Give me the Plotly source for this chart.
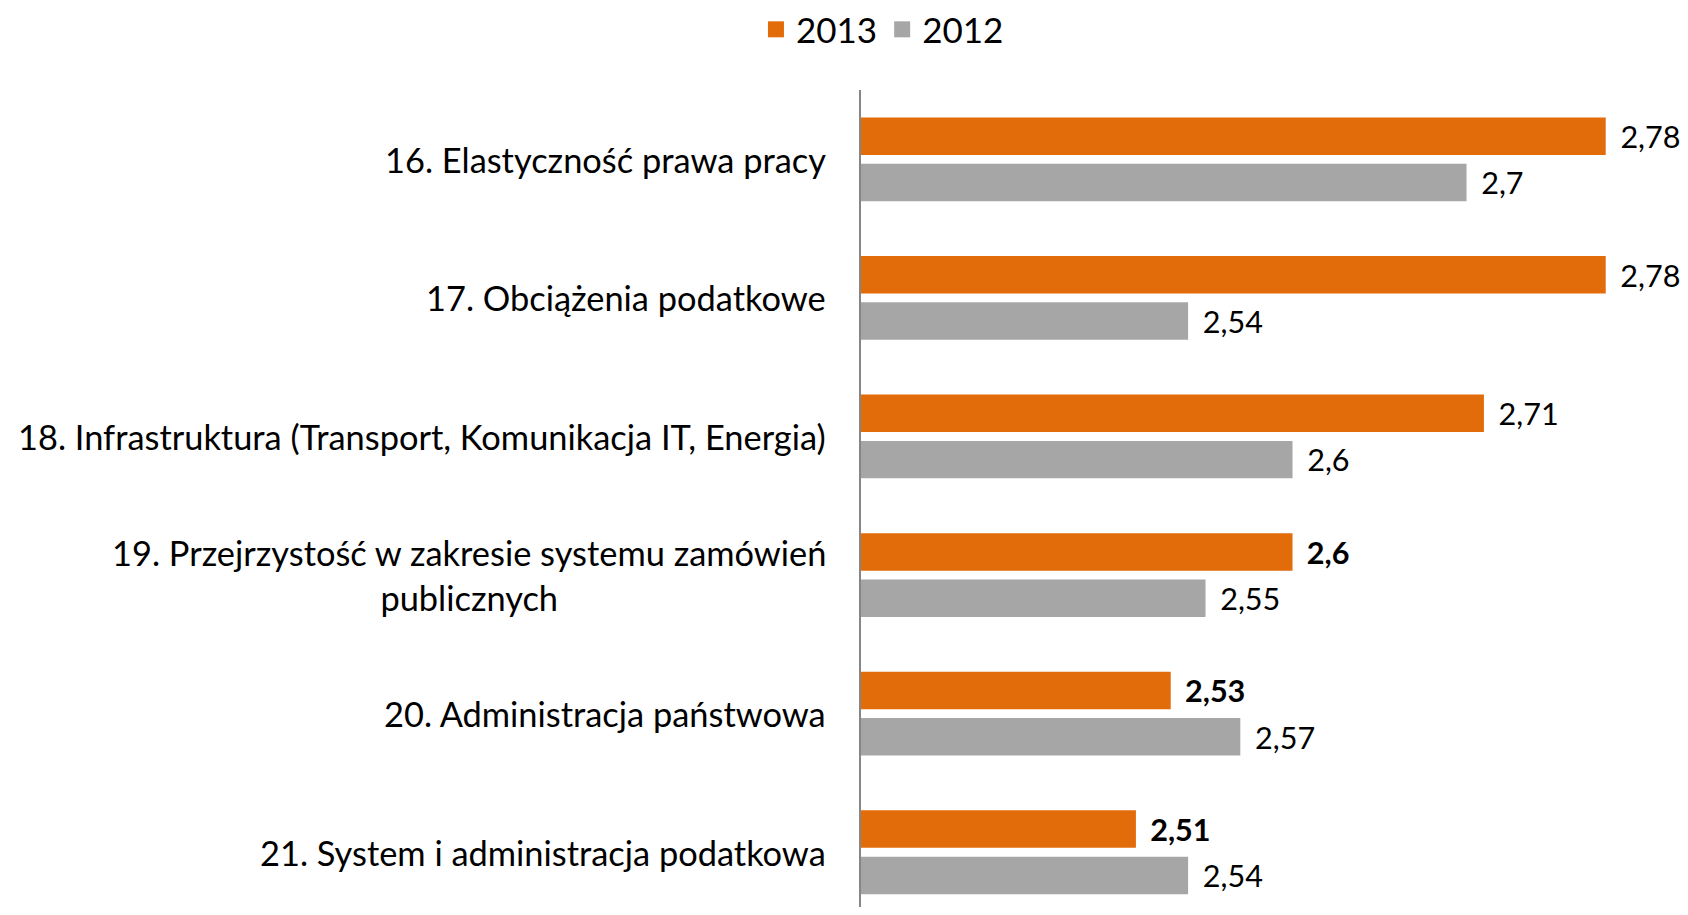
import plotly.graph_objects as go

categories = [
    "16. Elastyczność prawa pracy",
    "17. Obciążenia podatkowe",
    "18. Infrastruktura (Transport, Komunikacja IT, Energia)",
    "19. Przejrzystość w zakresie systemu zamówień<br>publicznych",
    "20. Administracja państwowa",
    "21. System i administracja podatkowa",
]
values_2013 = [2.78, 2.78, 2.71, 2.60, 2.53, 2.51]
values_2012 = [2.70, 2.54, 2.60, 2.55, 2.57, 2.54]
series_names = ["2013", "2012"]

FONT = "Lato"
ORANGE = "#E36C0A"
GREY = "#A6A6A6"
LABEL_WEIGHT_2013 = ["normal", "normal", "normal", "bold", "bold", "bold"]
PAD = "\u00a0\u2009"


def fmt(v):
    s = ("%.2f" % v).rstrip("0").rstrip(".")
    return PAD + s.replace(".", ",")


fig = go.Figure()
fig.add_trace(go.Bar(
    y=categories, x=values_2013, name=series_names[0], orientation="h",
    marker=dict(color=ORANGE, line=dict(width=0)),
    text=[fmt(v) for v in values_2013], textposition="outside",
    textfont=dict(family=FONT, size=31, color="#000000", weight=LABEL_WEIGHT_2013),
    cliponaxis=False, showlegend=False,
))
fig.add_trace(go.Bar(
    y=categories, x=values_2012, name=series_names[1], orientation="h",
    marker=dict(color=GREY, line=dict(width=0)),
    text=[fmt(v) for v in values_2012], textposition="outside",
    textfont=dict(family=FONT, size=31, color="#000000"),
    cliponaxis=False, showlegend=False,
))
# legend entries with larger square swatches
for name, col in zip(series_names, [ORANGE, GREY]):
    fig.add_trace(go.Scatter(
        x=[None], y=[None], mode="markers", name=name,
        marker=dict(symbol="square", size=22, color=col),
        showlegend=True,
    ))

for c in categories:
    fig.add_annotation(
        x=0, xref="paper", y=c, yref="y", text=c, showarrow=False,
        xanchor="right", yanchor="middle", align="center", xshift=-33,
        font=dict(family=FONT, size=34.4, color="#000000"),
    )

fig.update_layout(
    width=1672, height=899,
    margin=dict(l=853, r=36, t=82, b=0),
    paper_bgcolor="white", plot_bgcolor="white",
    barmode="group", bargap=0.332, bargroupgap=0.19,
    showlegend=True,
    legend=dict(
        orientation="h", xref="container", yref="container",
        x=0.523, xanchor="center", y=0.976, yanchor="middle",
        font=dict(family=FONT, size=35, color="#000000"),
        traceorder="normal", itemwidth=30,
    ),
    xaxis=dict(range=[2.352, 2.802], visible=False, showgrid=False, zeroline=False),
    yaxis=dict(
        type="category", categoryorder="array", categoryarray=categories,
        range=[5.395, -0.5], showticklabels=False, ticks="",
        showline=True, linecolor="#868686", linewidth=2, showgrid=False,
        zeroline=False,
    ),
)

fig.write_html("out.html")
